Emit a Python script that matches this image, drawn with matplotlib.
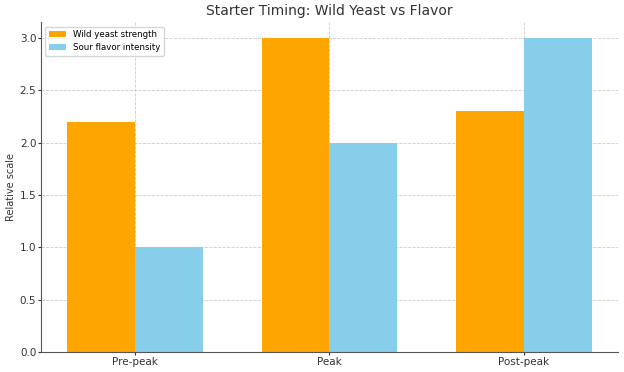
import numpy as np
import matplotlib
matplotlib.use("Agg")
import matplotlib.pyplot as plt

# Data
stages = ["Pre-peak", "Peak", "Post-peak"]
yeast_strength = [2.2, 3.0, 2.3]
sour_intensity = [1.0, 2.0, 3.0]

text_color = "#333333"

fig, ax = plt.subplots(figsize=(6.24, 3.72), dpi=100)
fig.subplots_adjust(left=0.066, right=0.99, bottom=0.054, top=0.94)

x = np.arange(len(stages))
width = 0.35
ax.bar(x - width / 2, yeast_strength, width, color="orange", label="Wild yeast strength")
ax.bar(x + width / 2, sour_intensity, width, color="skyblue", label="Sour flavor intensity")

ax.set_xticks(x)
ax.set_xticklabels(stages)
ax.set_ylabel("Relative scale", fontsize=7, color=text_color, labelpad=3)
ax.set_title("Starter Timing: Wild Yeast vs Flavor", fontsize=10, color=text_color, pad=5)
ax.tick_params(labelsize=7.5, colors=text_color, length=2.5, pad=1)

ax.grid(True, linestyle="--", linewidth=0.6, color="#cccccc")
ax.set_axisbelow(True)
for side in ["top", "right"]:
    ax.spines[side].set_visible(False)
for side in ["left", "bottom"]:
    ax.spines[side].set_color("#555555")

ax.legend(loc="upper left", fontsize=6.2, framealpha=0.8)

plt.savefig("out.png", dpi=100)
